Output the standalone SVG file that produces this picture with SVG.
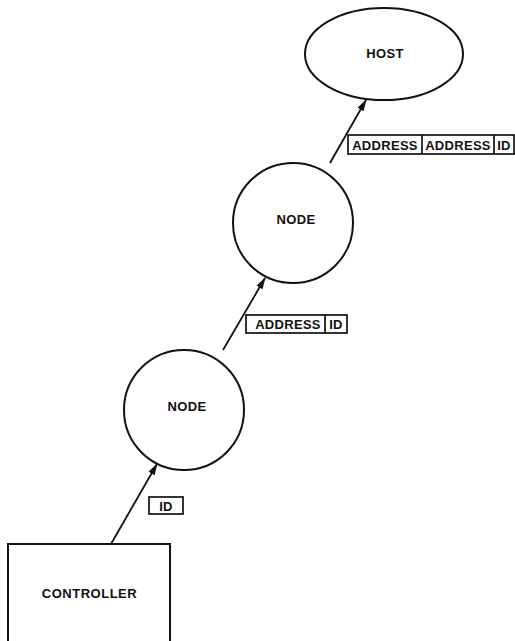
<svg xmlns="http://www.w3.org/2000/svg" width="515" height="641" viewBox="0 0 515 641">
<defs>
<style>
.shape{fill:#fff;stroke:#111;stroke-width:2}
.lbl{fill:none;stroke:#111;stroke-width:1.7}
.t{font-family:"Liberation Sans",Arial,sans-serif;font-weight:bold;font-size:13px;fill:#111;text-anchor:middle;letter-spacing:0.3px}
.conn{stroke:#111;stroke-width:1.8;fill:none;marker-end:url(#ah)}
</style>
<marker id="ah" viewBox="0 0 12 8" refX="11" refY="4" markerWidth="12" markerHeight="8" markerUnits="userSpaceOnUse" orient="auto">
<path d="M0,0.5 L12,4 L0,7.5 z" fill="#111"/>
</marker>
</defs>
<rect width="515" height="641" fill="#fff"/>
<g id="connectors">
<line class="conn" x1="111" y1="544" x2="157" y2="464"/>
<line class="conn" x1="223" y1="350" x2="265" y2="278"/>
<line class="conn" x1="330" y1="163" x2="366" y2="100"/>
</g>
<g id="host">
<ellipse class="shape" cx="384" cy="54" rx="79" ry="46"/>
<text class="t" x="385" y="57.5">HOST</text>
</g>
<g id="node2">
<circle class="shape" cx="293" cy="223" r="60"/>
<text class="t" x="296" y="223.5">NODE</text>
</g>
<g id="node1">
<circle class="shape" cx="184" cy="410" r="60"/>
<text class="t" x="187" y="410.5">NODE</text>
</g>
<g id="controller">
<rect class="shape" x="8" y="544" width="162" height="110"/>
<text class="t" x="89.5" y="597.5" style="letter-spacing:0.5px">CONTROLLER</text>
</g>
<g id="label-id">
<rect class="lbl" x="149" y="497" width="34" height="17"/>
<text class="t" x="166" y="510.5">ID</text>
</g>
<g id="label-address-id">
<rect class="lbl" x="246" y="315" width="101" height="18"/>
<line class="lbl" x1="325" y1="315" x2="325" y2="333"/>
<text class="t" x="288" y="329">ADDRESS</text>
<text class="t" x="336" y="329">ID</text>
</g>
<g id="label-address-address-id">
<rect class="lbl" x="348" y="135" width="166" height="19"/>
<line class="lbl" x1="422" y1="135" x2="422" y2="154"/>
<line class="lbl" x1="494" y1="135" x2="494" y2="154"/>
<text class="t" x="385" y="149.5">ADDRESS</text>
<text class="t" x="458" y="149.5">ADDRESS</text>
<text class="t" x="504" y="149.5">ID</text>
</g>
</svg>
